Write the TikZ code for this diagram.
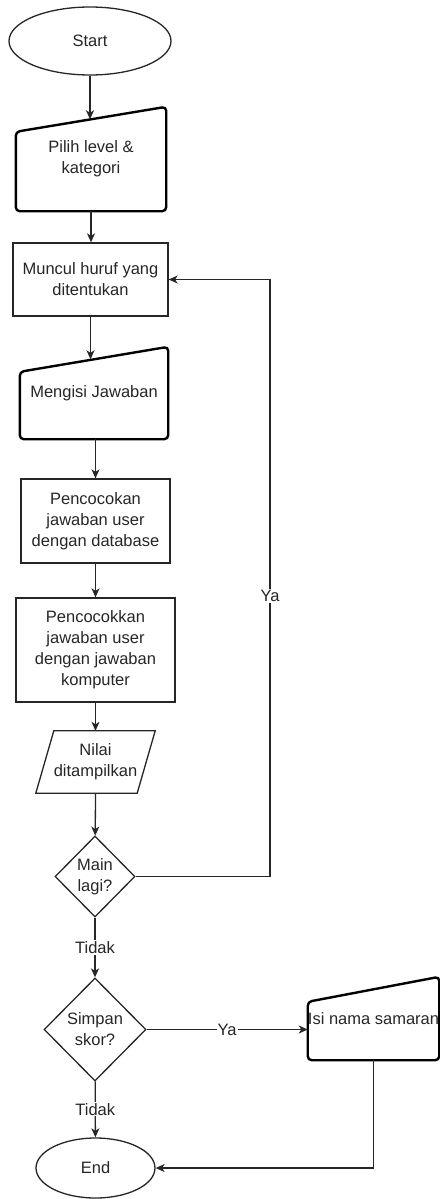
\documentclass[tikz,border=0pt]{standalone}
\usepackage{fontspec}
\setmainfont{Liberation Sans}
\usetikzlibrary{shapes.geometric, arrows.meta, calc}

% bentuk input manual: atas miring, sudut bulat
\newcommand{\inputmanual}[1]{%
    \draw[garismanual] (#1.south west) -- ($(#1.north west)+(0,25)$)
        -- (#1.north east) -- (#1.south east) -- cycle;
    \coordinate (#1-atas) at ($(#1.north)+(0,12.5)$);}
% bentuk data: jajar genjang
\newcommand{\jajargenjang}[1]{%
    \draw[garis] (#1.south west) -- ($(#1.north west)+(18,0)$)
        -- (#1.north east) -- ($(#1.south east)+(-18,0)$) -- cycle;}

\begin{document}
\begin{tikzpicture}[x=1pt, y=-1pt, font=\fontsize{16.5}{20.9}\selectfont, text=black!85]
    % Definisi gaya
    \tikzset{
        garis/.style={draw=black!85, line width=1.3pt},
        garismanual/.style={draw=black, line width=2.4pt, rounded corners=4pt},
        terminal/.style={ellipse, garis, inner sep=0pt},
        proses/.style={rectangle, garis, inner sep=0pt, align=center},
        manual/.style={rectangle, inner sep=0pt, align=center},
        data/.style={rectangle, inner sep=0pt, align=center},
        keputusan/.style={diamond, aspect=1, garis, inner sep=0pt, align=center},
        panah/.style={garis, -{Stealth[length=9pt, width=8pt, inset=2.5pt]}},
        ket/.style={fill=white, inner sep=1pt}
    }
    \useasboundingbox (0,0) rectangle (439,1199);

    % Mulai
    \node[terminal, minimum width=162pt, minimum height=68pt] (start) at (90,41) {Start};

    % Pilih level
    \node[manual, minimum width=150pt, minimum height=104pt] (pilih) at (91,159)
        {Pilih level \&\\kategori};
    \inputmanual{pilih}

    % Huruf
    \node[proses, minimum width=155pt, minimum height=73pt] (muncul) at (90.5,279.5)
        {Muncul huruf yang\\ditentukan};

    % Jawaban
    \node[manual, minimum width=148pt, minimum height=92pt] (mengisi) at (94,393)
        {Mengisi Jawaban};
    \inputmanual{mengisi}

    % Pencocokan
    \node[proses, minimum width=149pt, minimum height=84pt] (cocokdb) at (95.5,521)
        {Pencocokan\\jawaban user\\dengan database};
    \node[proses, minimum width=159pt, minimum height=104pt] (cocokkom) at (95.5,650)
        {Pencocokkan\\jawaban user\\dengan jawaban\\komputer};

    % Nilai
    \node[data, minimum width=119pt, minimum height=62pt] (nilai) at (95.5,762)
        {Nilai\\ditampilkan};
    \jajargenjang{nilai}

    % Keputusan
    \node[keputusan, minimum width=80pt, minimum height=81pt] (main) at (95,876.5)
        {Main\\lagi?};
    \node[keputusan, minimum width=102pt, minimum height=103pt] (simpan) at (95,1029.5)
        {Simpan\\skor?};

    % Nama samaran
    \node[manual, minimum width=129pt, minimum height=83pt] (isi) at (373.5,1018.5)
        {Isi nama samaran};
    \inputmanual{isi}

    % Selesai
    \node[terminal, minimum width=119pt, minimum height=60pt] (end) at (95.5,1168) {End};

    % Jalur kembali
    \coordinate (jalur) at (270,0);

    % Koneksi
    \draw[panah] (start) -- (start |- pilih-atas);
    \draw[panah] (pilih.south) -- (pilih.south |- muncul.north);
    \draw[panah] (muncul) -- (muncul |- mengisi-atas);
    \draw[panah] (cocokdb |- mengisi.south) -- (cocokdb);
    \draw[panah] (cocokdb) -- (cocokkom);
    \draw[panah] (cocokkom) -- (nilai);
    \draw[panah] (nilai.south) -- (main);
    \draw[panah] (main.east) -- (main.east -| jalur)
        -- node[ket, pos=0.47] {Ya} (muncul.east -| jalur) -- (muncul.east);
    \draw[panah] (main) -- node[ket] {Tidak} (simpan);
    \draw[panah] (simpan) -- node[ket] {Tidak} (end);
    \draw[panah] (simpan.east) -- node[ket] {Ya} (simpan.east -| isi.west);
    \draw[panah] (isi.south) |- (end.east);
\end{tikzpicture}
\end{document}
